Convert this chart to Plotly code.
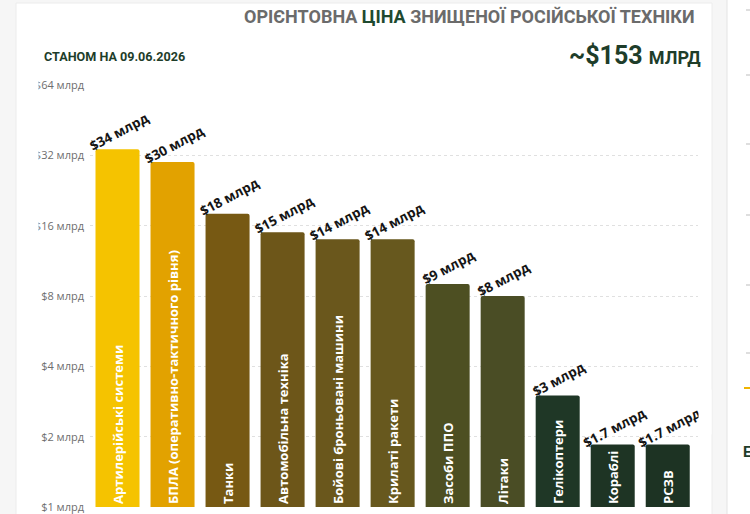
import numpy as np
import plotly.graph_objects as go

# ---------------- data ----------------
categories = [
    "Артилерійські системи",
    "БПЛА (оперативно-тактичного рівня)",
    "Танки",
    "Автомобільна техніка",
    "Бойові броньовані машини",
    "Крилаті ракети",
    "Засоби ППО",
    "Літаки",
    "Гелікоптери",
    "Кораблі",
    "РСЗВ",
]
values = [34, 30, 18, 15, 14, 14, 9, 8, 3, 1.85, 1.85]
value_labels = ["$34 млрд", "$30 млрд", "$18 млрд", "$15 млрд", "$14 млрд", "$14 млрд",
                "$9 млрд", "$8 млрд", "$3 млрд", "$1.7 млрд", "$1.7 млрд"]
bar_colors = ["#f5c300", "#e2a200", "#775913", "#6d5619", "#6a571c", "#67581e",
              "#4d4f22", "#4a4d25", "#1f3726", "#1e3424", "#1d3323"]
tick_vals = [1, 2, 4, 8, 16, 32, 64]
tick_text = ["$1 млрд", "$2 млрд", "$4 млрд", "$8 млрд", "$16 млрд", "$32 млрд", "$64 млрд"]

title_main = "ОРІЄНТОВНА <span style='color:#1f4a30'>ЦІНА</span> ЗНИЩЕНОЇ РОСІЙСЬКОЇ ТЕХНІКИ"
date_text = "СТАНОМ НА 09.06.2026"
total_text = "~$153 <span style='font-size:18px'>МЛРД</span>"

# ---------------- layout geometry ----------------
W, H = 750, 514
ML, MR, MT, MB = 90, 52, 85, 7
PW, PH = W - ML - MR, H - MT - MB


def px(x):
    return (x - ML) / PW


def py(y):
    return (H - MB - y) / PH


GREEN = "#1e3d2a"

fig = go.Figure()
fig.add_trace(go.Bar(
    x=categories, y=values, width=0.8,
    marker=dict(color=bar_colors, line=dict(width=0), cornerradius=2),
    text=categories, textposition="inside", insidetextanchor="start",
    textangle=-90, constraintext="none",
    textfont=dict(family="Open Sans", size=13, color="white", weight="bold"),
    hoverinfo="skip", showlegend=False,
))

annotations = []
for c, v, lab in zip(categories, values, value_labels):
    annotations.append(dict(
        x=c, y=np.log10(v), xref="x", yref="y", text=lab, showarrow=False,
        textangle=-28, xshift=1, yshift=17,
        font=dict(family="Open Sans", size=13.5, color="#151515", weight="bold"),
    ))

# clipping cover at right edge of the chart area (labels cut off in the original)
annotations.append(dict(x=px(698), y=py(412), xref="paper", yref="paper", xanchor="left",
                        yanchor="middle", text=" ", width=12, height=44, bgcolor="white",
                        borderpad=0, showarrow=False))

annotations += [
    dict(x=px(697), y=py(17), xref="paper", yref="paper", xanchor="right", yanchor="middle",
         text=title_main, showarrow=False,
         font=dict(family="Roboto", size=18, color="#6b6b6b", weight="bold")),
    dict(x=px(42), y=py(57), xref="paper", yref="paper", xanchor="left", yanchor="middle",
         text=date_text, showarrow=False,
         font=dict(family="Roboto", size=12.6, color=GREEN, weight="bold")),
    dict(x=px(703), y=py(55), xref="paper", yref="paper", xanchor="right", yanchor="middle",
         text=total_text, showarrow=False,
         font=dict(family="Roboto", size=25, color=GREEN, weight="bold")),
    dict(x=px(741), y=py(452), xref="paper", yref="paper", xanchor="left", yanchor="middle",
         text="E", showarrow=False,
         font=dict(family="Roboto", size=15, color=GREEN, weight="bold")),
]

shapes = [
    # card
    dict(type="rect", xref="paper", yref="paper", x0=px(16), x1=px(712), y0=py(530), y1=py(3),
         fillcolor="white", line=dict(color="#ececec", width=1), layer="below"),
    # right panel
    dict(type="rect", xref="paper", yref="paper", x0=px(727), x1=px(760), y0=py(530), y1=py(-10),
         fillcolor="white", line=dict(color="#e4e4e4", width=1), layer="below"),
    # clip of tick labels at left
    dict(type="rect", xref="paper", yref="paper", x0=px(17), x1=px(38.5), y0=py(240), y1=py(70),
         fillcolor="white", line=dict(width=0), layer="above"),
    # yellow mark in right panel
    dict(type="line", xref="paper", yref="paper", x0=px(744), x1=px(750), y0=py(388), y1=py(388),
         line=dict(color="#f0b400", width=2), layer="above"),
]
for yy in [10, 75, 144, 215, 285, 353]:
    shapes.append(dict(type="line", xref="paper", yref="paper", x0=px(746), x1=px(750),
                       y0=py(yy), y1=py(yy), line=dict(color="#bdbdbd", width=1), layer="above"))

fig.update_layout(
    width=W, height=H,
    margin=dict(l=ML, r=MR, t=MT, b=MB, pad=0, autoexpand=False),
    paper_bgcolor="#f6f6f6", plot_bgcolor="rgba(0,0,0,0)",
    barmode="overlay", bargap=0.2,
    xaxis=dict(type="category", range=[-0.5, 10.55], showticklabels=False, showgrid=False,
               zeroline=False, showline=False, ticks="", fixedrange=True, automargin=False),
    yaxis=dict(type="log", range=[0, np.log10(64)], tickvals=tick_vals, ticktext=tick_text,
               showgrid=True, gridcolor="#e0e0e0", griddash="dot", gridwidth=1,
               zeroline=False, showline=False, ticks="", ticklabelstandoff=5, automargin=False,
               tickfont=dict(family="Open Sans", size=11, color="#6e6e6e"), fixedrange=True),
    annotations=annotations, shapes=shapes,
    font=dict(family="Open Sans"),
)

fig.write_html("out.html")
